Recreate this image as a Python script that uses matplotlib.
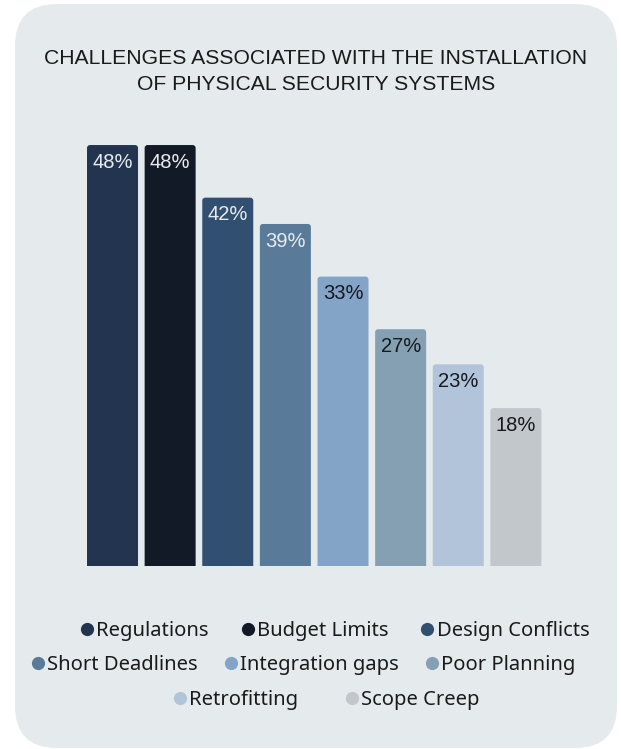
import matplotlib.pyplot as plt
from matplotlib.patches import FancyBboxPatch
from matplotlib.lines import Line2D

# chart data
categories = ["Regulations", "Budget Limits", "Design Conflicts", "Short Deadlines",
              "Integration gaps", "Poor Planning", "Retrofitting", "Scope Creep"]
values = [48, 48, 42, 39, 33, 27, 23, 18]
colors = ["#22344f", "#121a27", "#314f70", "#5a7a99",
          "#84a4c7", "#85a0b2", "#b2c4da", "#c2c7cb"]
label_colors = ["#e8ecef"] * 4 + ["#15191f"] * 4
legend_rows = [[0, 1, 2], [3, 4, 5], [6, 7]]

W, H = 621, 749
fig = plt.figure(figsize=(W / 100, H / 100), dpi=100)
fig.patch.set_facecolor("white")

# rounded background panel (in inches)
panel = FancyBboxPatch((0.15, 0.01), 6.02, 7.44,
                       boxstyle="round,pad=0,rounding_size=0.42",
                       transform=fig.dpi_scale_trans, facecolor="#e5eaed",
                       edgecolor="none", zorder=-5)
fig.patches.append(panel)

fig.text(316 / W, 1 - 59 / H, "CHALLENGES ASSOCIATED WITH THE INSTALLATION",
         ha="center", va="center", fontsize=15.2, family="Liberation Sans", color="#1a1a1a")
fig.text(316 / W, 1 - 84 / H, "OF PHYSICAL SECURITY SYSTEMS",
         ha="center", va="center", fontsize=15.2, family="Liberation Sans", color="#1a1a1a")

ax = fig.add_axes([83.7 / W, 1 - 566 / H, 461 / W, 438.5 / H])
ax.set_facecolor("none")
ax.set_xlim(-0.5, len(values) - 0.5)
ax.set_ylim(0, 50)
ax.axis("off")

bar_w = 0.885
r_x = 3 / 57.6
aspect = (3 / 8.77) / r_x
for i, v in enumerate(values):
    box = FancyBboxPatch((i - bar_w / 2, -2), bar_w, v + 2,
                         boxstyle="round,pad=0,rounding_size=%f" % r_x,
                         mutation_aspect=aspect, facecolor=colors[i],
                         edgecolor="none")
    ax.add_patch(box)
    ax.annotate("%d%%" % v, (i, v), xytext=(0, -5.5), textcoords="offset points",
                ha="center", va="top", fontsize=14.5, family="Liberation Sans",
                color=label_colors[i])

# legend, one centred row at a time
row_pos = [(334.5, 631), (303, 665), (326, 700)]
row_spacing = [1.6, 1.3, 2.3]
for row, (cx, cy), cs in zip(legend_rows, row_pos, row_spacing):
    handles = [Line2D([], [], linestyle="none", marker="o", markersize=9.5,
                      markerfacecolor=colors[i], markeredgecolor="none")
               for i in row]
    fig.legend(handles, [categories[i] for i in row], loc="center",
               bbox_to_anchor=(cx / W, 1 - cy / H), ncol=len(row), frameon=False,
               handlelength=0.7, handletextpad=0.1, columnspacing=cs,
               prop={"family": "Noto Sans", "size": 14.5}, labelcolor="#1a1a1a",
               borderpad=0, borderaxespad=0)

fig.savefig("out.png", dpi=100, facecolor="white")
